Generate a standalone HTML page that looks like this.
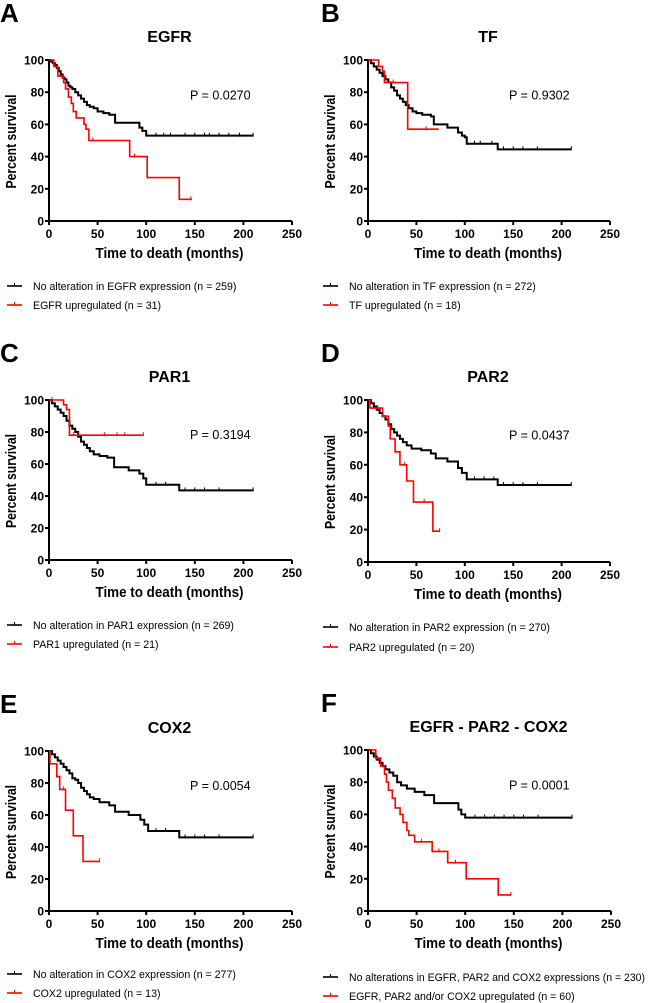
<!DOCTYPE html>
<html><head><meta charset="utf-8">
<style>
html,body{margin:0;padding:0;background:#fff;}
svg{display:block;font-family:"Liberation Sans",Arial,sans-serif;}
</style></head>
<body>
<svg id="fig" width="650" height="1003" viewBox="0 0 650 1003" xmlns="http://www.w3.org/2000/svg"></svg>
<script>
// ---------- data ----------
const xTicks = [0, 50, 100, 150, 200, 250];
const yTicks = [0, 20, 40, 60, 80, 100];

const aBlackT = [0,2,4,6,8,10,12,14,16,18,20,22,24,27,30,33,36,39,42,46,50,56,62,68,93,96,100,210];
const aBlackS = [100,99,98,97,95,93,91,89,88,86,84,83,82,80,78,76,74,72,71,70,68,67,66,61,58,56,53,53];
const aRedT = [0,5,9,15,17,20,23,25,28,36,38,41,83,101,134,147];
const aRedS = [100,96,90,86,82,77,73,68,64,60,57,50,40,27,13.5,13.5];
const aBlackC = [110,118,125,140,150,160,165,175,185,196,210];
const aRedC = [45,88,146];

const bBlackT = [0,3,6,9,12,15,18,21,24,27,30,33,36,39,42,46,50,56,65,68,82,93,97,100,102,134,210];
const bBlackS = [100,98,96,94,92,90,88,86,83,81,78,76,74,72,70,68,67,66,65,60,58,55,53,52,48,44.5,44.5];
const bRedT = [0,11,15,17,41,73];
const bRedS = [100,96,93,86,57,57];
const bBlackC = [110,116,128,140,150,160,175,210];
const bRedC = [26,60];

const cBlackT = [0,3,6,9,12,15,18,21,24,27,30,33,36,39,42,46,52,60,67,82,93,97,100,134,210];
const cBlackS = [100,98,96,94,92,90,87,84,82,80,77,74,72,70,68,66,65,64,58,56,54,51,47,43.5,43.5];
const cRedT = [0,15,18,21,97];
const cRedS = [100,97,94,78,78];
const cBlackC = [110,120,140,150,160,175,210];
const cRedC = [3,25,30,57,70,78,97];

const dBlackT = [0,3,6,9,12,15,18,21,24,27,30,33,36,40,45,55,65,70,82,93,97,102,134,210];
const dBlackS = [100,98,96,94,92,90,88,85,82,80,78,76,74,72,70,69,67,64,62,58,55,51,47.5,47.5];
const dRedT = [0,2,15,21,23,28,33,40,47,67,74];
const dRedS = [100,95,90,84,76,68,60,50,37,19,19];
const dBlackC = [110,120,130,140,150,160,175,210];
const dRedC = [10,38,58,74];

const eBlackT = [0,3,6,9,12,15,18,21,24,27,30,33,36,39,42,46,52,62,68,82,94,98,102,134,210];
const eBlackS = [100,98,96,94,92,90,88,86,83,82,80,77,75,73,71,70,68,66,62,60,57,54,50,46,46];
const eRedT = [0,1,8,11,17,25,35,52];
const eRedS = [100,92,84,76,63,47,31,31];
const eBlackC = [110,120,140,150,160,175,210];
const eRedC = [15,52];

const fBlackT = [0,3,6,9,12,15,18,22,26,30,34,40,48,58,68,93,96,100,210];
const fBlackS = [100,98,96,94,92,90,88,86,84,80,78,76,74,72,67,63,60,58,58];
const fRedT = [0,8,13,17,19,21,25,28,33,36,40,42,48,66,82,101,134,147];
const fRedS = [100,95,90,85,80,75,70,64,60,55,50,47,43,37,30,20,10,10];
const fBlackC = [110,120,130,140,150,160,175,210];
const fRedC = [55,73,90,147];

const panels = [
 {id:'a',letter:'A',title:'EGFR',p:'P = 0.0270',ox:49,x1:292,yt:60,yb:221,lx:0,
  bT:aBlackT,bS:aBlackS,rT:aRedT,rS:aRedS,bC:aBlackC,rC:aRedC,
  leg1:'No alteration in EGFR expression (n = 259)',leg2:'EGFR upregulated (n = 31)',lgx:7,lg1:286,lg2:305},
 {id:'b',letter:'B',title:'TF',p:'P = 0.9302',ox:368,x1:610,yt:60,yb:221,lx:321,
  bT:bBlackT,bS:bBlackS,rT:bRedT,rS:bRedS,bC:bBlackC,rC:bRedC,
  leg1:'No alteration in TF expression (n = 272)',leg2:'TF upregulated (n = 18)',lgx:323,lg1:286,lg2:305},
 {id:'c',letter:'C',title:'PAR1',p:'P = 0.3194',ox:49,x1:292,yt:400,yb:560,lx:0,
  bT:cBlackT,bS:cBlackS,rT:cRedT,rS:cRedS,bC:cBlackC,rC:cRedC,
  leg1:'No alteration in PAR1 expression (n = 269)',leg2:'PAR1 upregulated (n = 21)',lgx:7,lg1:625,lg2:644},
 {id:'d',letter:'D',title:'PAR2',p:'P = 0.0437',ox:368,x1:610,yt:400,yb:562,lx:321,
  bT:dBlackT,bS:dBlackS,rT:dRedT,rS:dRedS,bC:dBlackC,rC:dRedC,
  leg1:'No alteration in PAR2 expression (n = 270)',leg2:'PAR2 upregulated (n = 20)',lgx:323,lg1:627,lg2:647},
 {id:'e',letter:'E',title:'COX2',p:'P = 0.0054',ox:49,x1:292,yt:751,yb:911,lx:0,
  bT:eBlackT,bS:eBlackS,rT:eRedT,rS:eRedS,bC:eBlackC,rC:eRedC,
  leg1:'No alteration in COX2 expression (n = 277)',leg2:'COX2 upregulated (n = 13)',lgx:7,lg1:974,lg2:993},
 {id:'f',letter:'F',title:'EGFR - PAR2 - COX2',p:'P = 0.0001',ox:368,x1:611,yt:750,yb:911,lx:321,
  bT:fBlackT,bS:fBlackS,rT:fRedT,rS:fRedS,bC:fBlackC,rC:fRedC,
  leg1:'No alterations in EGFR, PAR2 and COX2 expressions (n = 230)',leg2:'EGFR, PAR2 and/or COX2 upregulated (n = 60)',lgx:323,lg1:977,lg2:996,legLen:296}
];

const NS='http://www.w3.org/2000/svg';
const svg=document.getElementById('fig');
function mk(tag,attrs,parent){const e=document.createElementNS(NS,tag);for(const k in attrs)e.setAttribute(k,attrs[k]);(parent||svg).appendChild(e);return e;}

function stepPath(T,S,sx,sy){
  let d='M'+sx(T[0])+','+sy(S[0]);
  for(let i=1;i<T.length;i++){
    d+=' H'+sx(T[i]);
    d+=' V'+sy(S[i]);
  }
  return d;
}
function survAt(T,S,t){let v=S[0];for(let i=0;i<T.length;i++){if(T[i]<=t)v=S[i];}return v;}

panels.forEach(P=>{
  const g=mk('g',{});
  
  
  const sx=v=>P.ox+(v/250)*(P.x1-P.ox);
  const sy=v=>P.yb-(v/100)*(P.yb-P.yt);
  const L=mk('text',{x:P.lx,y:P.yt-38,'font-size':26,'font-weight':'bold',fill:'#000'},g);
  L.textContent=P.letter;
  
  
  const tt=mk('text',{x:(P.ox+P.x1)/2-1,y:P.yt-18,'font-size':16,'font-weight':'bold','text-anchor':'middle'},g);
  tt.textContent=P.title;
  
  
  const ax=mk('path',{d:'M'+P.ox+','+P.yt+' V'+P.yb+' H'+P.x1,stroke:'#000','stroke-width':2,fill:'none'},g);
  
  
  xTicks.forEach(v=>{
    mk('line',{x1:sx(v),x2:sx(v),y1:P.yb,y2:P.yb+4,stroke:'#000','stroke-width':2},g);
    const t=mk('text',{x:sx(v),y:P.yb+17,'font-size':12,'font-weight':'bold','text-anchor':'middle'},g);
    t.textContent=v;
    
    
  });
  yTicks.forEach(v=>{
    mk('line',{x1:P.ox-4,x2:P.ox,y1:sy(v),y2:sy(v),stroke:'#000','stroke-width':2},g);
    const t=mk('text',{x:P.ox-5,y:sy(v)+4.5,'font-size':12,'font-weight':'bold','text-anchor':'end'},g);
    t.textContent=v;
    
    
  });
  const xt=mk('text',{x:(P.ox+P.x1)/2-1,y:P.yb+37,'font-size':15,'font-weight':'bold','text-anchor':'middle',textLength:148,lengthAdjust:'spacingAndGlyphs'},g);
  xt.textContent='Time to death (months)';
  
  
  const yc=(P.yt+P.yb)/2+1, yx=P.ox-33;
  const yt=mk('text',{x:yx,y:yc,'font-size':15,'font-weight':'bold','text-anchor':'middle',textLength:94,lengthAdjust:'spacingAndGlyphs',transform:'rotate(-90 '+yx+' '+yc+')'},g);
  yt.textContent='Percent survival';
  
  
  const pv=mk('text',{x:P.ox+141,y:sy(78)+4,'font-size':12.5},g);
  pv.textContent=P.p;
  
  
  const bl=mk('path',{d:stepPath(P.bT,P.bS,sx,sy),stroke:'#000','stroke-width':2,fill:'none'},g);
  
  
  P.bC.forEach(c=>{const y=sy(survAt(P.bT,P.bS,c));const m=mk('line',{x1:sx(c),x2:sx(c),y1:y-3,y2:y+1,stroke:'#000','stroke-width':1},g);
    
    });
  const rd=mk('path',{d:stepPath(P.rT,P.rS,sx,sy),stroke:'#ff0000','stroke-width':1.6,fill:'none'},g);
  
  
  P.rC.forEach(c=>{const y=sy(survAt(P.rT,P.rS,c));const m=mk('line',{x1:sx(c),x2:sx(c),y1:y-3,y2:y+1,stroke:'#ff0000','stroke-width':1},g);
    
    });
  [[P.lg1,'#000',P.leg1,'legend-entry-no-alteration',P.legLen],[P.lg2,'#ff0000',P.leg2,'legend-entry-upregulated',null]].forEach(([y,c,txt,nm,len])=>{
    const lg=mk('g',{},g);
    
    
    mk('line',{x1:P.lgx,x2:P.lgx+15,y1:y,y2:y,stroke:c,'stroke-width':1.6},lg);
    mk('line',{x1:P.lgx+7.5,x2:P.lgx+7.5,y1:y-3,y2:y,stroke:c,'stroke-width':1},lg);
    const at={x:P.lgx+26,y:y+4,'font-size':10.6};
    if(len){at.textLength=len;at.lengthAdjust='spacingAndGlyphs';}
    const t=mk('text',at,lg);
    t.textContent=txt;
  });
});
</script>
</body></html>
